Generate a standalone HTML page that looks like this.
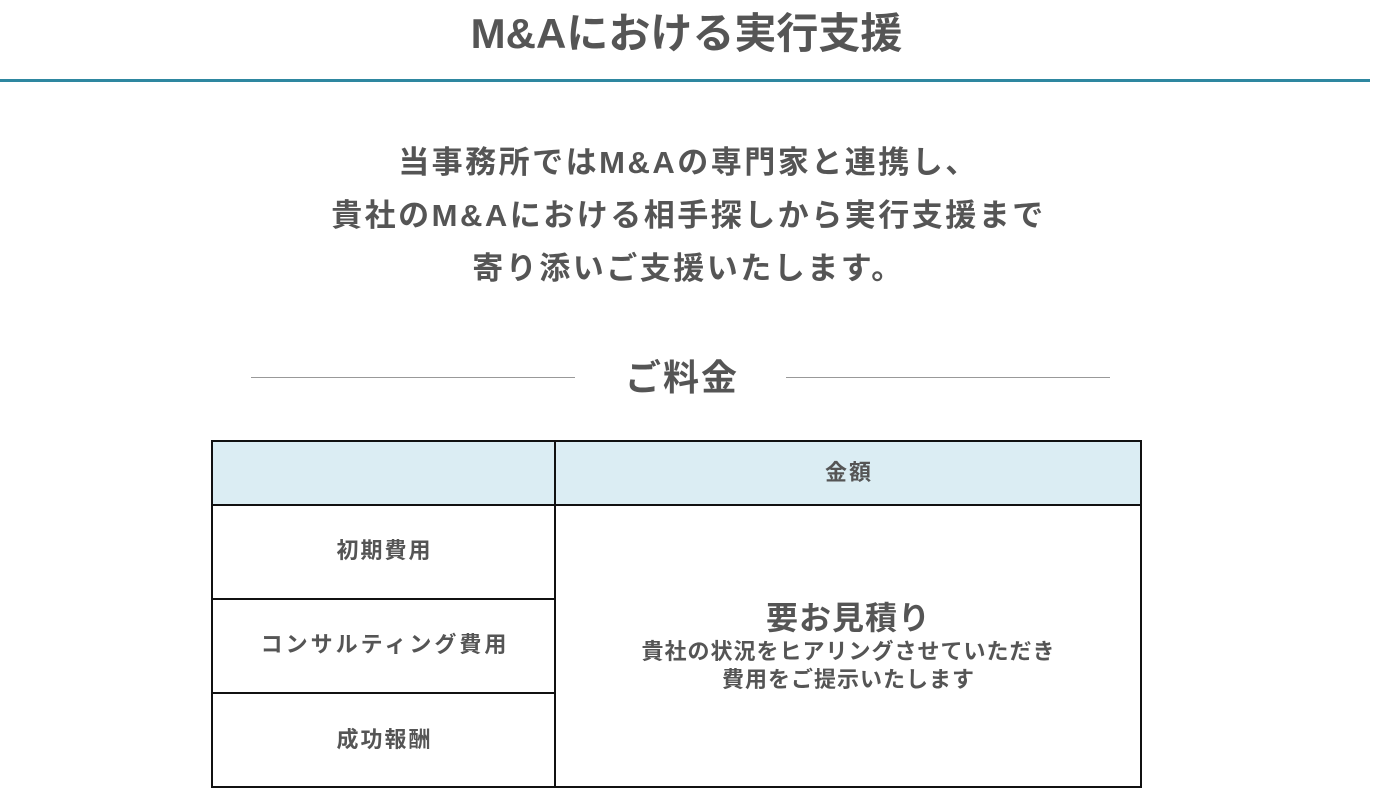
<!DOCTYPE html>
<html><head><meta charset="utf-8"><style>
body{margin:0;width:1373px;height:789px;background:#fff;font-family:"Liberation Sans","Noto Sans CJK JP",sans-serif;color:#555;font-weight:bold;position:relative;overflow:hidden}
.a{position:absolute;white-space:nowrap}
.c{position:absolute;display:flex;align-items:center;justify-content:center;text-align:center;box-sizing:border-box}
</style></head><body>
<div class="a" style="left:0;width:1373px;top:9px;text-align:center;font-size:42px;line-height:50px">M&amp;Aにおける実行支援</div>
<div class="a" style="left:0;top:79px;width:1370px;height:3px;background:#2e87a0"></div>
<div class="a" style="left:0;width:1373px;top:136px;text-align:center;font-size:31px;line-height:53px;letter-spacing:2.5px;padding-left:2px">当事務所ではM&amp;Aの専門家と連携し、<br>貴社のM&amp;Aにおける相手探しから実行支援まで<br>寄り添いご支援いたします。</div>
<div class="a" style="left:251px;top:377px;width:324px;height:1px;background:#999"></div>
<div class="a" style="left:786px;top:377px;width:324px;height:1px;background:#999"></div>
<div class="a" style="left:582px;width:200px;top:354px;text-align:center;font-size:36px;line-height:48px;letter-spacing:2px">ご料金</div>
<div class="c" style="left:211px;top:440px;width:345px;height:66px;background:#dbedf3;border:2px solid #111"></div>
<div class="c" style="left:554px;top:440px;width:588px;height:66px;background:#dbedf3;border:2px solid #111;font-size:22px;letter-spacing:2px;padding-left:2px;padding-bottom:4px">金額</div>
<div class="c" style="left:211px;top:504px;width:345px;height:96px;border:2px solid #111;font-size:22px;letter-spacing:2px;padding-left:2px;padding-bottom:6px">初期費用</div>
<div class="c" style="left:211px;top:598px;width:345px;height:96px;border:2px solid #111;font-size:22px;letter-spacing:3px;padding-left:3px;padding-bottom:6px">コンサルティング費用</div>
<div class="c" style="left:211px;top:692px;width:345px;height:96px;border:2px solid #111;font-size:22px;letter-spacing:2px;padding-left:2px;padding-bottom:4px">成功報酬</div>
<div class="c" style="left:554px;top:504px;width:588px;height:284px;border:2px solid #111;flex-direction:column">
<div style="font-size:32px;line-height:40px;letter-spacing:1px;padding-left:1px">要お見積り</div>
<div style="font-size:22px;line-height:28px;letter-spacing:1px;padding-left:1px">貴社の状況をヒアリングさせていただき<br>費用をご提示いたします</div>
</div>
</body></html>
